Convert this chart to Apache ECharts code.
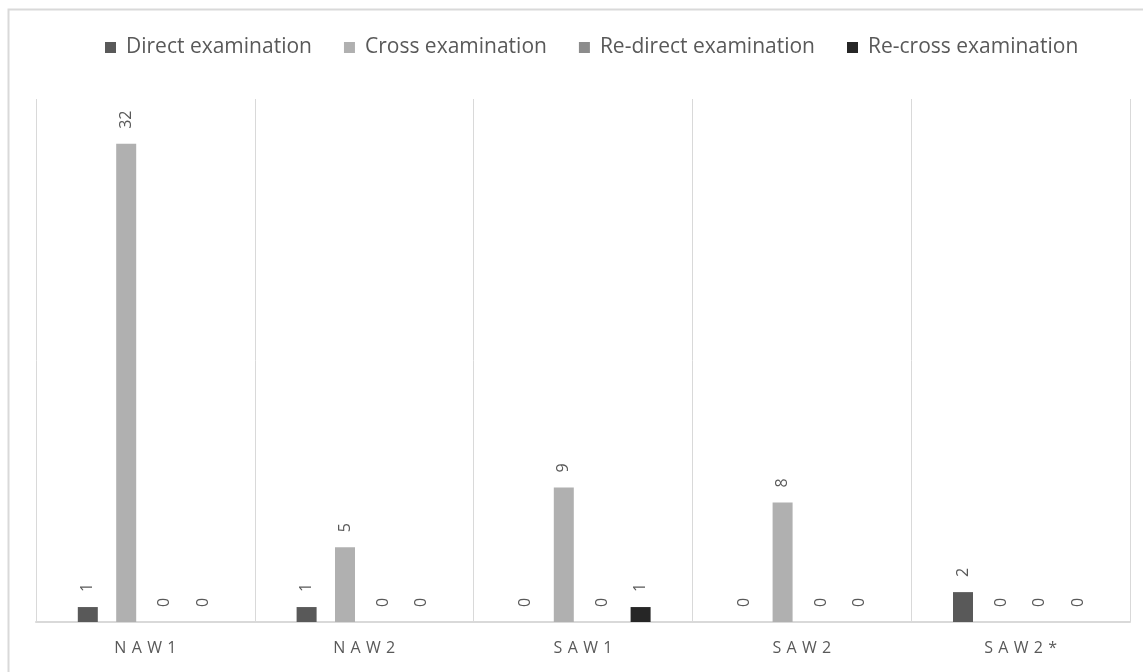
<!DOCTYPE html>
<html>
<head>
<meta charset="utf-8">
<script src="https://cdn.jsdelivr.net/npm/echarts@6/dist/echarts.min.js"></script>
<style>
  html, body { margin: 0; padding: 0; background: #fff; }
  #chart { width: 1143px; height: 672px; }
</style>
</head>
<body>
<div id="chart"></div>
<script>
// Witnesses and question counts per examination stage
const categories = ['NAW1', 'NAW2', 'SAW1', 'SAW2', 'SAW2*'];
const seriesNames = ['Direct examination', 'Cross examination', 'Re-direct examination', 'Re-cross examination'];
const directExam = [1, 1, 0, 0, 2];
const crossExam = [32, 5, 9, 8, 0];
const redirectExam = [0, 0, 0, 0, 0];
const recrossExam = [0, 0, 1, 0, 0];
const seriesColors = ['#595959', '#b0b0b0', '#8c8c8c', '#262626'];

const values = [directExam, crossExam, redirectExam, recrossExam];
const textColor = '#595959';
const fontFamily = '"Open Sans", "DejaVu Sans", sans-serif';

const chart = echarts.init(document.getElementById('chart'), null, { renderer: 'canvas' });

chart.setOption({
  animation: false,
  backgroundColor: '#ffffff',
  graphic: [{
    // frame around the chart, open on the right and bottom edges of the page
    type: 'rect',
    shape: { x: 8.5, y: 9.5, width: 1200, height: 700 },
    style: { fill: 'none', stroke: '#d9d9d9', lineWidth: 2 },
    silent: true
  }],
  legend: {
    top: 32,
    left: 100,
    icon: 'rect',
    itemWidth: 11,
    itemHeight: 11,
    itemGap: 32,
    textStyle: { color: textColor, fontSize: 21, fontFamily: fontFamily, padding: [0, 0, 0, 5] },
    data: seriesNames
  },
  grid: { left: 36, right: 13, top: 99, bottom: 50 },
  xAxis: {
    type: 'category',
    data: categories,
    boundaryGap: true,
    axisLine: { show: true, lineStyle: { color: '#d9d9d9', width: 2 } },
    axisTick: { show: false },
    splitLine: { show: true, lineStyle: { color: '#d9d9d9', width: 1 } },
    axisLabel: {
      color: textColor,
      fontSize: 16,
      fontFamily: fontFamily,
      margin: 18,
      formatter: v => v.split('').join('\u2004')
    }
  },
  yAxis: {
    type: 'value',
    min: 0,
    max: 35,
    show: false,
    splitLine: { show: false }
  },
  series: seriesNames.map((name, i) => ({
    name: name,
    type: 'bar',
    data: values[i],
    barWidth: 20,
    barGap: '92%',
    itemStyle: { color: seriesColors[i] },
    label: {
      show: true,
      position: 'top',
      rotate: 90,
      align: 'left',
      verticalAlign: 'middle',
      distance: 15,
      color: textColor,
      fontSize: 16,
      fontFamily: fontFamily
    }
  }))
});
</script>
</body>
</html>
